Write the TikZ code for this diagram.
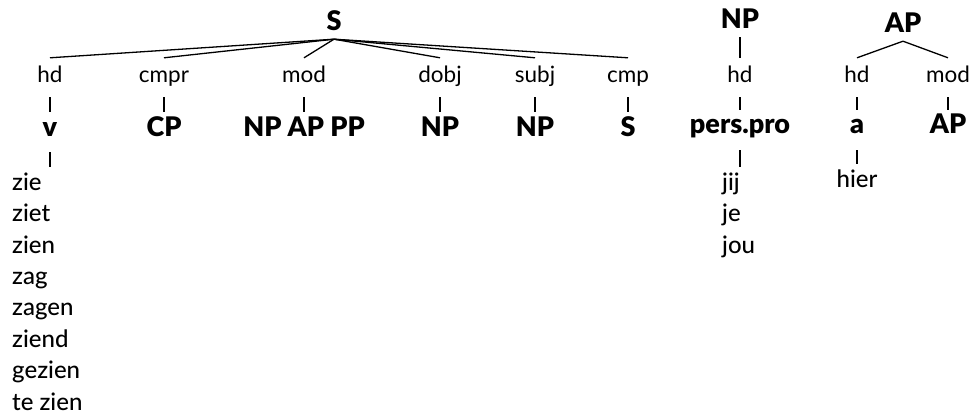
\documentclass[tikz,border=0pt]{standalone}
\usepackage{fontspec}
\setmainfont{Lato}[BoldFont={Lato Black}]
\newfontfamily\wordfont{Lato Medium}
\begin{document}
\begin{tikzpicture}[x=1pt,y=-1pt,
  rel/.style={inner sep=0pt,anchor=base,font=\fontsize{22.5}{22.5}\selectfont,text height=25pt,text depth=14pt},
  cat/.style={inner sep=0pt,anchor=base,font=\fontsize{27}{27}\selectfont\bfseries,text height=24pt,text depth=16pt},
  top/.style={inner sep=0pt,anchor=base,font=\fontsize{27}{27}\selectfont\bfseries,text height=20pt,text depth=8pt},
  word/.style={inner sep=0pt,anchor=base west,font=\fontsize{24}{24}\selectfont\wordfont,text height=23pt,text depth=5pt},
  ln/.style={line width=1.3pt}]
\useasboundingbox (0,0) rectangle (974,417);
% main tree
\node[top] (S) at (334,31) {S};
\node[rel] (r1) at (50,83) {hd};
\node[rel] (r2) at (164,83) {cmpr};
\node[rel] (r3) at (304,83) {mod};
\node[rel] (r4) at (440,83) {dobj};
\node[rel] (r5) at (535,83) {subj};
\node[rel] (r6) at (628,83) {cmp};
\node[cat] (c1) at (50,136) {v};
\node[cat] (c2) at (164,136) {CP};
\node[cat] (c3) at (304,136) {NP AP PP};
\node[cat] (c4) at (440,136) {NP};
\node[cat] (c5) at (535,136) {NP};
\node[cat] (c6) at (628,136) {S};
\foreach \i in {1,...,6}{
  \draw[ln] (S.south) -- (r\i.north);
  \draw[ln] (r\i.south) -- (c\i.north);
}
\node[word] (w1) at (12,190) {zie};
\node[word] (w2) at (12,221) {ziet};
\node[word] (w3) at (12,253) {zien};
\node[word] (w4) at (12,284) {zag};
\node[word] (w5) at (12,315) {zagen};
\node[word] (w6) at (12,347) {ziend};
\node[word] (w7) at (12,378) {gezien};
\node[word] (w8) at (12,410) {te zien};
\draw[ln] (c1.south) -- (c1.south |- w1.north);
% NP tree
\node[top] (np) at (740,29) {NP};
\node[rel] (nphd) at (740,83) {hd};
\node[cat] (pp) at (740,134) {pers.pro};
\node[word] (j1) at (722,190) {jij};
\node[word] (j2) at (722,221) {je};
\node[word] (j3) at (722,253) {jou};
\draw[ln] (np.south) -- (nphd.north);
\draw[ln] (nphd.south) -- (pp.north);
\draw[ln] (pp.south) -- (pp.south |- j1.north);
% AP tree
\node[top] (ap) at (903,33) {AP};
\node[rel] (aphd) at (857,83) {hd};
\node[rel] (apmod) at (948,83) {mod};
\node[cat] (a) at (857,134) {a};
\node[cat] (ap2) at (948,134) {AP};
\node[word,anchor=base] (hier) at (857,187) {hier};
\draw[ln] (ap.south) -- (aphd.north);
\draw[ln] (ap.south) -- (apmod.north);
\draw[ln] (aphd.south) -- (a.north);
\draw[ln] (apmod.south) -- (ap2.north);
\draw[ln] (a.south) -- (hier.north);
\end{tikzpicture}
\end{document}
